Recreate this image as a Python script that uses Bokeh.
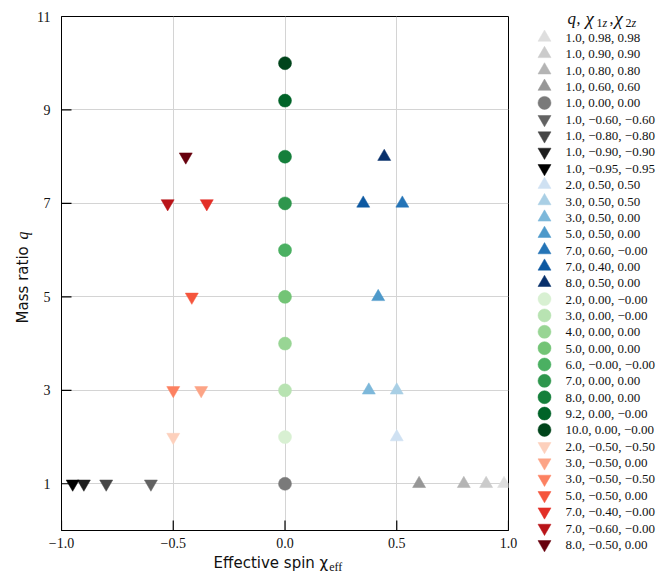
import math
from bokeh.plotting import figure
from bokeh.models import Range1d, FixedTicker
from bokeh.layouts import row, column
from bokeh.core.properties import value
from bokeh.embed import file_html
from bokeh.resources import INLINE

# ---- data ----
labels = [
    "1.0, 0.98, 0.98", "1.0, 0.90, 0.90", "1.0, 0.80, 0.80", "1.0, 0.60, 0.60",
    "1.0, 0.00, 0.00", "1.0, \u22120.60, \u22120.60", "1.0, \u22120.80, \u22120.80",
    "1.0, \u22120.90, \u22120.90", "1.0, \u22120.95, \u22120.95",
    "2.0, 0.50, 0.50", "3.0, 0.50, 0.50", "3.0, 0.50, 0.00", "5.0, 0.50, 0.00",
    "7.0, 0.60, \u22120.00", "7.0, 0.40, 0.00", "8.0, 0.50, 0.00",
    "2.0, 0.00, \u22120.00", "3.0, 0.00, \u22120.00", "4.0, 0.00, 0.00", "5.0, 0.00, 0.00",
    "6.0, \u22120.00, \u22120.00", "7.0, 0.00, 0.00", "8.0, 0.00, 0.00",
    "9.2, 0.00, \u22120.00", "10.0, 0.00, \u22120.00",
    "2.0, \u22120.50, \u22120.50", "3.0, \u22120.50, 0.00", "3.0, \u22120.50, \u22120.50",
    "5.0, \u22120.50, 0.00", "7.0, \u22120.40, \u22120.00", "7.0, \u22120.60, \u22120.00",
    "8.0, \u22120.50, 0.00",
]
chi_eff = [0.98, 0.90, 0.80, 0.60, 0.00, -0.60, -0.80, -0.90, -0.95,
           0.50, 0.50, 0.375, 0.417, 0.525, 0.35, 0.444,
           0.0, 0.0, 0.0, 0.0, 0.0, 0.0, 0.0, 0.0, 0.0,
           -0.50, -0.375, -0.50, -0.417, -0.35, -0.525, -0.444]
mass_ratio = [1, 1, 1, 1, 1, 1, 1, 1, 1,
              2, 3, 3, 5, 7, 7, 8,
              2, 3, 4, 5, 6, 7, 8, 9.2, 10,
              2, 3, 3, 5, 7, 7, 8]
markers = (["triangle"] * 4 + ["circle"] + ["inverted_triangle"] * 4 +
           ["triangle"] * 7 + ["circle"] * 9 + ["inverted_triangle"] * 7)
colors = ["#dedede", "#cbcbcb", "#b4b4b4", "#979797", "#7a7a7a", "#626262", "#464646", "#1e1e1e", "#000000",
          "#cfe1f2", "#a9cfe5", "#7db8da", "#4d99ca", "#2474b7", "#0d58a1", "#08306b",
          "#d8f0d2", "#b8e3b2", "#98d594", "#73c476", "#4bb062", "#2e964d", "#157f3b", "#006328", "#00441b",
          "#fdd0bc", "#fca486", "#fc8161", "#f5553c", "#e32f27", "#b91419", "#67000d"]

x_ticks = [-1.0, -0.5, 0.0, 0.5, 1.0]
x_tick_labels = ["\u22121.0", "\u22120.5", "0.0", "0.5", "1.0"]
y_ticks = [1, 3, 5, 7, 9, 11]

SERIF = "Liberation Serif"
SANS = "DejaVu Sans"
TXT = "#111111"
X_MIN, X_MAX, Y_MIN, Y_MAX = -1.0, 1.0, 0.0, 11.0
FRAME_W, FRAME_H = 447, 514
TICK_LEN = 10  # pixels, ticks point inward
YL_W = 34


def blank_fig(w, h):
    f = figure(width=w, height=h, output_backend="svg", toolbar_location=None,
               x_range=Range1d(0, w), y_range=Range1d(0, h),
               min_border=0, min_border_left=0, min_border_right=0,
               min_border_top=0, min_border_bottom=0)
    f.axis.visible = False
    f.grid.visible = False
    f.outline_line_color = None
    f.background_fill_color = "white"
    f.border_fill_color = "white"
    return f


# ---- main plot ----
p = figure(width=530 - YL_W, height=552, output_backend="svg", toolbar_location=None,
           x_range=Range1d(X_MIN, X_MAX), y_range=Range1d(Y_MIN, Y_MAX),
           min_border_left=61 - YL_W, min_border_right=22, min_border_top=16, min_border_bottom=22,
           background_fill_color="white", border_fill_color="white")
p.outline_line_color = "black"
p.outline_line_width = 1
p.outline_line_alpha = 1

for ax in (p.xaxis[0], p.yaxis[0]):
    ax.major_tick_in = 0
    ax.major_tick_out = 0
    ax.minor_tick_line_color = None
    ax.axis_line_color = "black"
    ax.major_label_text_font = SERIF
    ax.major_label_text_font_size = "14px"
    ax.major_label_text_color = TXT
    ax.axis_label = None

p.xaxis.ticker = FixedTicker(ticks=x_ticks)
p.xaxis.major_label_overrides = {t: l for t, l in zip(x_ticks, x_tick_labels)}
p.xaxis.major_label_standoff = 7
p.yaxis.ticker = FixedTicker(ticks=y_ticks)
p.yaxis.major_label_standoff = 11

p.xgrid.ticker = FixedTicker(ticks=x_ticks)
p.ygrid.ticker = FixedTicker(ticks=y_ticks)
p.grid.grid_line_color = "#d4d4d4"
p.grid.grid_line_width = 1

# inward ticks drawn from the tick arrays
tx = TICK_LEN * (X_MAX - X_MIN) / FRAME_W
ty = TICK_LEN * (Y_MAX - Y_MIN) / FRAME_H
p.segment(x0=x_ticks, y0=[Y_MIN] * len(x_ticks), x1=x_ticks, y1=[Y_MIN + ty] * len(x_ticks),
          line_color="black", line_width=1.2)
p.segment(x0=[X_MIN] * len(y_ticks), y0=y_ticks, x1=[X_MIN + tx] * len(y_ticks), y1=y_ticks,
          line_color="black", line_width=1.2)

for xv, yv, mk, c in zip(chi_eff, mass_ratio, markers, colors):
    p.scatter([xv], [yv], marker=mk, size=13, fill_color=c, line_color=c, line_width=0.5)

# ---- x-axis label ----
XH = 21
xl = blank_fig(530 - YL_W, XH)
xl.text(x=[330 - YL_W], y=[XH - 10], text=["Effective spin \u03c7"], text_align="right",
        text_baseline="alphabetic", text_font=value(SANS), text_font_size="15px", text_color=TXT)
xl.text(x=[331 - YL_W], y=[XH - 14], text=["eff"], text_align="left",
        text_baseline="alphabetic", text_font=value(SERIF), text_font_size="12px", text_color=TXT)

# ---- y-axis label ----
YH = 573
yl = blank_fig(YL_W, YH)
yl.text(x=[22], y=[YH - 241], text=["Mass ratio "], angle=math.pi / 2, text_align="right",
        text_baseline="alphabetic", text_font=value(SANS), text_font_size="15px", text_color=TXT)
yl.text(x=[22], y=[YH - 239], text=["q"], angle=math.pi / 2, text_align="left",
        text_baseline="alphabetic", text_font=value(SERIF), text_font_style="italic",
        text_font_size="16px", text_color=TXT)

# ---- legend panel ----
LW, LH = 140, 573
lg = blank_fig(LW, LH)
row_y = [LH - (37 + 16.35 * i) for i in range(len(labels))]
for i, (mk, c) in enumerate(zip(markers, colors)):
    lg.scatter([14], [row_y[i]], marker=mk, size=13, fill_color=c, line_color=c, line_width=0.5)
lg.text(x=[35] * len(labels), y=row_y, text=labels, text_align="left", text_baseline="middle",
        text_font=value(SERIF), text_font_size="13px", text_color=TXT)
# title: q, chi_1z, chi_2z
main_y = LH - 18
sub_y = LH - 22
lg.text(x=[37], y=[main_y], text=["q"], text_align="left",
        text_baseline="alphabetic", text_font=value(SERIF), text_font_style="italic",
        text_font_size="17px", text_color=TXT)
lg.text(x=[55, 84], y=[main_y] * 2, text=["\u03c7", "\u03c7"], text_align="left",
        text_baseline="alphabetic", text_font=value(SERIF), text_font_style="italic",
        text_font_size="19px", text_color=TXT)
lg.text(x=[46, 79], y=[main_y] * 2, text=[",", ","], text_align="left",
        text_baseline="alphabetic", text_font=value(SERIF), text_font_size="16px", text_color=TXT)
lg.text(x=[66, 95], y=[sub_y] * 2, text=["1", "2"], text_align="left",
        text_baseline="alphabetic", text_font=value(SERIF), text_font_size="12px", text_color=TXT)
lg.text(x=[72, 101], y=[sub_y] * 2, text=["z", "z"], text_align="left",
        text_baseline="alphabetic", text_font=value(SERIF), text_font_style="italic",
        text_font_size="12px", text_color=TXT)

layout = row(yl, column(p, xl), lg)
open("out.html", "w").write(file_html(layout, INLINE))
